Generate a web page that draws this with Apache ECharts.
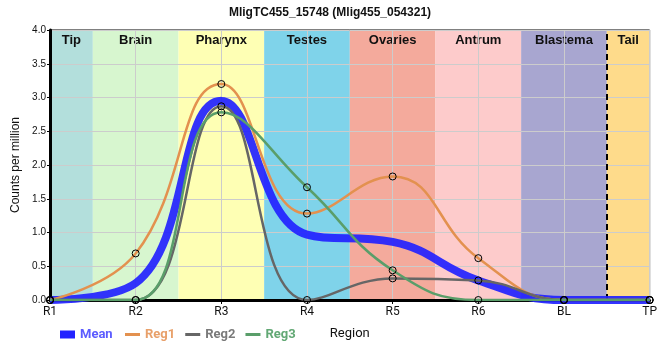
<!DOCTYPE html>
<html><head><meta charset="utf-8">
<script src="https://cdn.jsdelivr.net/npm/echarts@6/dist/echarts.min.js"></script>
<style>html,body{margin:0;padding:0;background:#fff}#c{width:660px;height:360px}</style>
</head><body><div id="c"></div>
<script>
var xLabels = ['R1','R2','R3','R4','R5','R6','BL','TP'];
var yTicks = [0,0.5,1,1.5,2,2.5,3,3.5,4];
var meanVals = [0, 0.25, 2.95, 0.97, 0.86, 0.29, 0, 0];
var reg1Vals = [0, 0.69, 3.2, 1.28, 1.83, 0.62, 0, 0];
var reg2Vals = [0, 0, 2.87, 0, 0.32, 0.29, 0, 0];
var reg3Vals = [0, 0, 2.78, 1.67, 0.44, 0, 0, 0];
var bandNames = ['Tip','Brain','Pharynx','Testes','Ovaries','Antrum','Blastema','Tail'];
var bandStart = [0, 0.5, 1.5, 2.5, 3.5, 4.5, 5.5, 6.5];
var bandEnd   = [0.5, 1.5, 2.5, 3.5, 4.5, 5.5, 6.5, 7];
var bandColors = ['#b3dfdc','#d7f6cf','#feffb4','#7fd3ea','#f4aa9c','#fdcbcb','#a8a6d0','#fedb8b'];
var dashPos = 6.5;

function pts(arr){ return arr.map(function(v,i){ return [i, v]; }); }

var chart = echarts.init(document.getElementById('c'), null, {renderer:'canvas'});
var areas = bandNames.map(function(n,i){
  return [{xAxis: bandStart[i], yAxis: 4, name: n, itemStyle:{color: bandColors[i], opacity:1}}, {xAxis: bandEnd[i], yAxis: 0}];
});
function regSeries(name, vals, color){
  return {
    name: name, type: 'line', data: pts(vals), smooth: 0.45, z: 3,
    symbol: 'circle', symbolSize: 7, showSymbol: true,
    lineStyle: {color: color, width: 2.5},
    itemStyle: {color: 'rgba(0,0,0,0)', borderColor: '#000', borderWidth: 1},
    emphasis: {disabled: true}
  };
}
function legItem(name, textColor, color){
  return {name: name, textStyle: {color: textColor},
    itemStyle: {color: color, borderWidth: 0, borderColor: 'transparent'},
    lineStyle: {width: 0, opacity: 0}};
}
chart.setOption({
  animation: false,
  backgroundColor: '#fff',
  title: {text: 'MligTC455_15748 (Mlig455_054321)', left: 'center', top: 2,
    textStyle: {fontSize: 12, fontWeight: 'bold', color: '#111', fontFamily: 'Liberation Sans, Arial, sans-serif'}},
  grid: {left: 50, right: 10, top: 30, bottom: 60, show: true, borderColor: '#000', borderWidth: 1, backgroundColor: 'transparent'},
  legend: [{
    data: [legItem('Mean', '#5c5cff', '#2222ff')],
    left: 55, top: 323, icon: 'rect', itemWidth: 15, itemHeight: 8, itemGap: 12,
    textStyle: {fontSize: 13, fontWeight: 'bold', fontFamily: 'Roboto, sans-serif'}
  },{
    data: [
      legItem('Reg1', '#e8a06a', '#e3914f'),
      legItem('Reg2', '#7a7a7a', '#666666'),
      legItem('Reg3', '#62a874', '#5a9e6a')
    ],
    left: 120, top: 323, icon: 'rect', itemWidth: 15, itemHeight: 3, itemGap: 10,
    textStyle: {fontSize: 13, fontWeight: 'bold', fontFamily: 'Roboto, sans-serif'}
  }],
  xAxis: {
    type: 'value', min: 0, max: 7, interval: 1,
    name: 'Region', nameLocation: 'middle', nameGap: 27,
    nameTextStyle: {fontSize: 13, color: '#111', fontFamily: 'Roboto, sans-serif'},
    axisLine: {show: true, onZero: false, lineStyle: {color: '#000', width: 3}},
    axisTick: {show: true, length: 4, lineStyle: {color: '#000'}},
    axisLabel: {fontSize: 12, color: '#111', margin: 6, fontFamily: 'Roboto, sans-serif', formatter: function(v){ return xLabels[Math.round(v)]; }},
    splitLine: {show: true, lineStyle: {color: '#cccccc', width: 1}}
  },
  yAxis: {
    type: 'value', min: 0, max: 4, interval: 0.5,
    name: 'Counts per million', nameLocation: 'middle', nameGap: 27,
    nameTextStyle: {fontSize: 12, color: '#111', fontFamily: 'Liberation Sans, Arial, sans-serif'},
    axisLine: {show: true, lineStyle: {color: '#000', width: 3}},
    axisTick: {show: true, length: 3, lineStyle: {color: '#000'}},
    axisLabel: {fontSize: 10, color: '#111', margin: 4, fontFamily: 'Liberation Sans, Arial, sans-serif', formatter: function(v){ return v.toFixed(1); }},
    splitLine: {show: true, lineStyle: {color: '#cccccc', width: 1}}
  },
  series: [
    {
      name: 'bands', type: 'line', data: [], z: -1, silent: true,
      markArea: {silent: true, z: -1, data: areas,
        label: {show: true, position: 'insideTop', distance: 4, fontSize: 13, fontWeight: 'bold', color: '#111', fontFamily: 'Liberation Sans, Arial, sans-serif'}},
      markLine: {silent: true, z: 1, symbol: 'none', label: {show: false},
        lineStyle: {color: '#000', width: 2, type: [6, 4]}, data: [{xAxis: dashPos}]}
    },
    {
      name: 'Mean', type: 'line', data: pts(meanVals), smooth: 0.45, z: 2,
      showSymbol: false, symbol: 'none',
      lineStyle: {color: '#2222ff', width: 8, opacity: 0.92},
      itemStyle: {color: '#2222ff'},
      emphasis: {disabled: true}
    },
    regSeries('Reg1', reg1Vals, '#e3914f'),
    regSeries('Reg2', reg2Vals, '#666666'),
    regSeries('Reg3', reg3Vals, '#5a9e6a')
  ]
});
</script></body></html>
